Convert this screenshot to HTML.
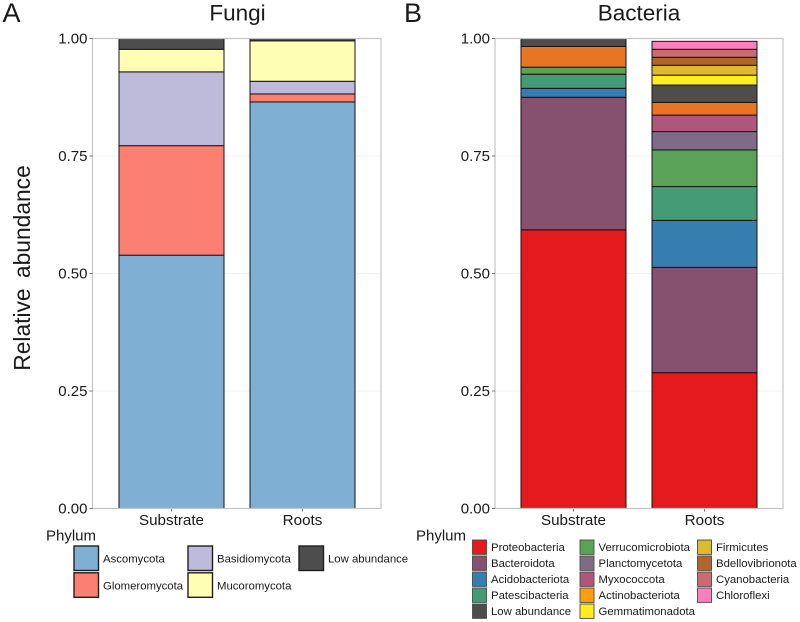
<!DOCTYPE html>
<html lang="en">
<head>
<meta charset="utf-8">
<title>Relative abundance of fungal and bacterial phyla</title>
<style>
html,body{margin:0;padding:0;background:#fff;}
body{width:800px;height:622px;overflow:hidden;}
svg{display:block;font-family:"Liberation Sans",sans-serif;}
text{fill:#1a1a1a;}
</style>
</head>
<body>
<svg id="chart" width="800" height="622" viewBox="0 0 800 622" xmlns="http://www.w3.org/2000/svg"></svg>
<script>
const yTicks = [0, 0.25, 0.5, 0.75, 1];
const yTickLabels = ["0.00", "0.25", "0.50", "0.75", "1.00"];
const categories = ["Substrate", "Roots"];

const fungiPhyla = ["Ascomycota", "Glomeromycota", "Basidiomycota", "Mucoromycota", "Low abundance"];
const fungiSubstrate = [0.539, 0.233, 0.157, 0.048, 0.023];
const fungiRoots = [0.865, 0.017, 0.027, 0.086, 0.005];
const fungiColors = ["#7fb0d3", "#fb8072", "#bebada", "#ffffb3", "#4d4d4d"];

const bacteriaPhyla = ["Proteobacteria", "Bacteroidota", "Acidobacteriota", "Patescibacteria", "Verrucomicrobiota", "Planctomycetota", "Myxococcota", "Actinobacteriota", "Low abundance", "Gemmatimonadota", "Firmicutes", "Bdellovibrionota", "Cyanobacteria", "Chloroflexi"];
const bacteriaSubstrate = [0.593, 0.282, 0.019, 0.030, 0.015, 0, 0, 0.044, 0.017, 0, 0, 0, 0, 0];
const bacteriaRoots = [0.289, 0.224, 0.100, 0.072, 0.078, 0.039, 0.035, 0.027, 0.037, 0.021, 0.021, 0.017, 0.017, 0.017];
const bacteriaColors = ["#e41a1c", "#86506f", "#377eb0", "#459b76", "#59a257", "#7f6b85", "#ad577c", "#e87524", "#4d4d4d", "#ffed1f", "#dcbb2d", "#b0652d", "#cb6a6f", "#f97fbd"];
const bacteriaLegendOrder = ["Proteobacteria", "Bacteroidota", "Acidobacteriota", "Patescibacteria", "Low abundance", "Verrucomicrobiota", "Planctomycetota", "Myxococcota", "Actinobacteriota", "Gemmatimonadota", "Firmicutes", "Bdellovibrionota", "Cyanobacteria", "Chloroflexi"];
const bacteriaLegendOverrides = {"Actinobacteriota": "#ff9f0f"};

const svg = document.getElementById('chart');
const NS = 'http://www.w3.org/2000/svg';

function make(tag, attrs, parent, text) {
  const el = document.createElementNS(NS, tag);
  for (const k in attrs) el.setAttribute(k, attrs[k]);
  if (text !== undefined) el.textContent = text;
  parent.appendChild(el);
  return el;
}
function slug(s) { return s.toLowerCase().replace(/[^a-z0-9]+/g, '-'); }

const plotTop = 38.5, plotBottom = 508.5;
function yScale(v) { return plotBottom - v * (plotBottom - plotTop); }

function drawPanel(cfg) {
  const g = make('g', {}, svg);
  
  

  for (let i = 0; i < yTicks.length; i++) {
    const gl = make('line', {x1: cfg.left, x2: cfg.right, y1: yScale(yTicks[i]), y2: yScale(yTicks[i]), stroke: '#f3f3f3', 'stroke-width': 1}, g);
    
    
  }

  const bandStep = cfg.step, barWidth = 105;
  [cfg.substrate, cfg.roots].forEach(function (series, c) {
    const cx = cfg.firstCenter + c * bandStep;
    let cum = 0;
    series.forEach(function (v, i) {
      if (v <= 0) return;
      const y1 = yScale(cum + v), y0 = yScale(cum);
      const r = make('rect', {x: cx - barWidth / 2, y: y1, width: barWidth, height: y0 - y1, fill: cfg.colors[i], stroke: '#141414', 'stroke-width': 1}, g);
      
      
      cum += v;
    });
    const tk = make('line', {x1: cx, x2: cx, y1: plotBottom, y2: plotBottom + 3, stroke: '#555', 'stroke-width': 0.8}, g);
    
    
    const lab = make('text', {x: cx, y: 525, 'text-anchor': 'middle', 'font-size': 15.2}, g, categories[c]);
    
    
  });

  const border = make('rect', {x: cfg.left, y: plotTop, width: cfg.right - cfg.left, height: plotBottom - plotTop, fill: 'none', stroke: '#c4c4c4', 'stroke-width': 1.2}, g);
  
  

  yTicks.forEach(function (t, i) {
    const tk = make('line', {x1: cfg.left - 3, x2: cfg.left, y1: yScale(t), y2: yScale(t), stroke: '#555', 'stroke-width': 0.8}, g);
    
    
    const lab = make('text', {x: cfg.left - 5, y: yScale(t) + 5.2, 'text-anchor': 'end', 'font-size': 15}, g, yTickLabels[i]);
    
    
  });

  const title = make('text', {x: cfg.titleX, y: 20.5, 'text-anchor': 'middle', 'font-size': 22.5}, g, cfg.title);
  
  

  const tag = make('text', {x: cfg.tagX, y: 22, 'font-size': 27}, g, cfg.tag);
  
  

  const lt = make('text', {x: cfg.legendTitleX, y: 540.5, 'font-size': 15}, g, 'Phylum');
  
  
}

drawPanel({id: 'fungi', title: 'Fungi', tag: 'A', tagX: 2.5, titleX: 237.5, left: 92.5, right: 381, firstCenter: 171.5, step: 131, substrate: fungiSubstrate, roots: fungiRoots, colors: fungiColors, phyla: fungiPhyla, legendTitleX: 46});
drawPanel({id: 'bacteria', title: 'Bacteria', tag: 'B', tagX: 404, titleX: 639, left: 495, right: 783, firstCenter: 573.5, step: 131, substrate: bacteriaSubstrate, roots: bacteriaRoots, colors: bacteriaColors, phyla: bacteriaPhyla, legendTitleX: 416});

const yTitle = make('text', {x: 0, y: 0, transform: 'translate(30,268) rotate(-90)', 'text-anchor': 'middle', 'font-size': 22.8, style: 'word-spacing:4px'}, svg, 'Relative abundance');



const fungiKeyLeft = [74, 188, 299];
fungiPhyla.forEach(function (name, i) {
  const col = Math.floor(i / 2), row = i % 2;
  const g = make('g', {}, svg);
  
  
  const top = 546 + row * 26.8;
  make('rect', {x: fungiKeyLeft[col], y: top, width: 24.5, height: 24.5, fill: fungiColors[i], stroke: '#1f1f1f', 'stroke-width': 1.4}, g);
  make('text', {x: fungiKeyLeft[col] + 29, y: top + 16.5, 'font-size': 11.35}, g, name);
});

const bacteriaKeyLeft = [472.5, 580, 697.5];
bacteriaLegendOrder.forEach(function (name, i) {
  const col = Math.floor(i / 5), row = i % 5;
  const idx = bacteriaPhyla.indexOf(name);
  const g = make('g', {}, svg);
  
  
  const top = 540 + row * 16;
  const fill = bacteriaLegendOverrides[name] || bacteriaColors[idx];
  make('rect', {x: bacteriaKeyLeft[col], y: top, width: 14, height: 14.4, fill: fill, stroke: '#4a4a4a', 'stroke-width': 0.9}, g);
  make('text', {x: bacteriaKeyLeft[col] + 18.5, y: top + 11.2, 'font-size': 11.35}, g, name);
});
</script>
</body>
</html>
